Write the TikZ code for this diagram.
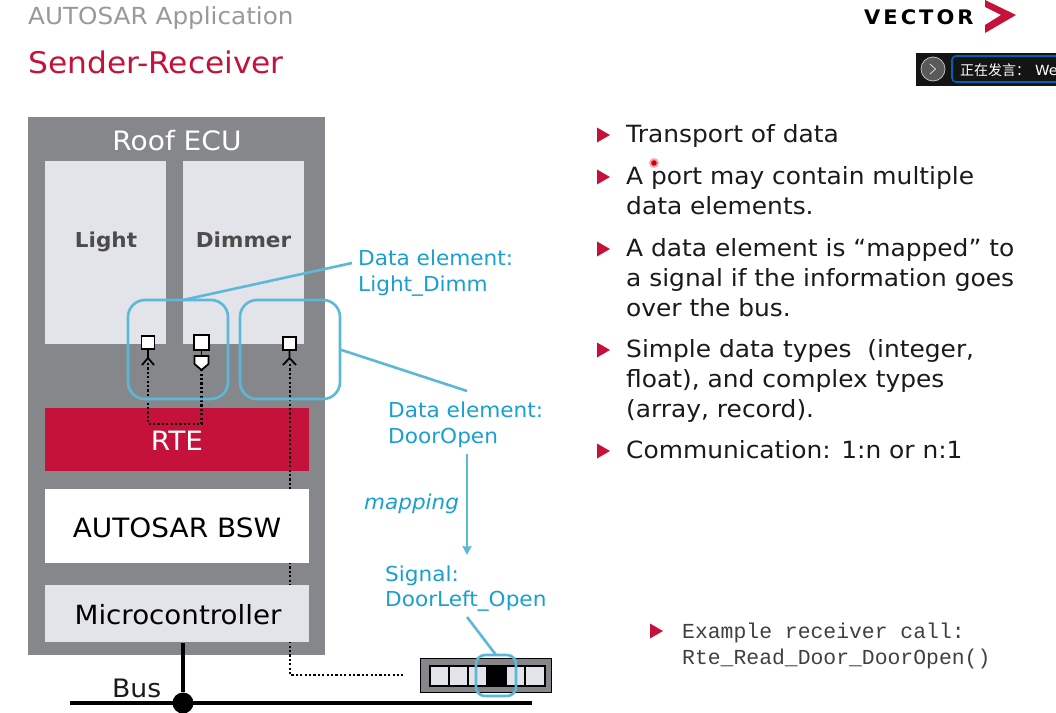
\documentclass[tikz,border=0pt]{standalone}
\usepackage{fontspec}
\setmainfont[FakeStretch=1.05]{DejaVu Sans}
\newfontfamily\cjkf{Noto Sans CJK SC}
\newfontfamily\monof{Liberation Mono}
\usetikzlibrary{arrows.meta,calc}
\definecolor{vgray}{HTML}{85878A}
\definecolor{vlight}{HTML}{E3E4EA}
\definecolor{vred}{HTML}{C5123A}
\definecolor{vblue}{HTML}{5CB8D8}
\definecolor{vtext}{HTML}{1A9FD0}
\definecolor{vdark}{HTML}{1A1A1A}
\tikzset{
  block/.style={draw=none,inner sep=0pt,outer sep=0pt,anchor=north west,align=center},
  txt/.style={anchor=base west,inner sep=0pt,text=vdark,font=\fontsize{23.7}{29}\selectfont,align=left},
  bluetxt/.style={anchor=base west,inner sep=0pt,text=vtext,font=\fontsize{20.6}{25}\selectfont},
  blk/.style={inner sep=0pt,font=\fontsize{26.6}{30}\selectfont},
  portsq/.style={draw=black,line width=1.8pt,fill=white,minimum size=13pt,inner sep=0pt},
  bluebox/.style={draw=vblue,line width=2.6pt,rounded corners=17pt,inner sep=0pt,fill=none},
  blueline/.style={draw=vblue,line width=2.6pt},
  dots/.style={draw=black,line width=2.4pt,dash pattern=on 2.2pt off 2.2pt},
  bull/.style={fill=vred,draw=none},
  stick/.style={draw=black,line width=1.8pt},
}
\newcommand{\bulletat}[2]{\fill[bull] (#1,#2-7.5) -- (#1+13,#2) -- (#1,#2+7.5) -- cycle;}
\begin{document}
\begin{tikzpicture}[x=1pt,y=-1pt]
\useasboundingbox (0,0) rectangle (1056,712);
\fill[white] (0,0) rectangle (1056,712);
% header
\node[anchor=base west,inner sep=0pt,text=vgray!85,font=\fontsize{23.5}{28}\selectfont] (h1) at (28,24) {AUTOSAR Application};
\node[anchor=base west,inner sep=0pt,text=vred,font=\fontsize{29.8}{34}\selectfont] (h2) at (28,73) {Sender-Receiver};
\node[anchor=base west,inner sep=0pt,text=black,font=\bfseries\fontsize{20}{22}\selectfont] (logo) at (864,24) {V\kern3pt E\kern3pt C\kern3pt T\kern3pt O\kern3pt R};
\fill[vred] (985,0) -- (1016,15) -- (985,33) -- (985,25) -- (1001,15) -- (985,7) -- cycle;
% meeting strip
\fill[black!92] (916,53) rectangle (1056,86);
\node[circle,draw=white!75!black,line width=0.8pt,fill=black!65,minimum size=24pt,inner sep=0pt] (spk) at (933,69) {};
\draw[white!85!black,line width=0.8pt] (930,64) -- (935.5,69) -- (930,74);
\draw[draw=blue!45!cyan!70!black,line width=1.6pt,rounded corners=4pt] (1066,56) -- (952,56) -- (952,82) -- (1066,82);
\begin{scope}
\clip (916,53) rectangle (1056,86);
\node[anchor=base west,inner sep=0pt,text=white,font=\fontsize{14}{16}\selectfont] (spkt) at (960,75) {{\cjkf 正在发言：}\hspace{5pt}We};
\end{scope}
% ECU
\node[block,fill=vgray,minimum width=297pt,minimum height=538pt] (ecu) at (28,117) {};
\node[inner sep=0pt,text=white,font=\fontsize{26.7}{30}\selectfont] (ecut) at (177,141) {Roof ECU};
\node[block,fill=vlight,minimum width=121pt,minimum height=183pt] (light) at (45,161) {};
\node[inner sep=0pt,text=black!70,font=\bfseries\fontsize{20.5}{24}\selectfont] at (106,242) {Light};
\node[block,fill=vlight,minimum width=121pt,minimum height=183pt] (dimmer) at (183,161) {};
\node[inner sep=0pt,text=black!70,font=\bfseries\fontsize{20.5}{24}\selectfont] at (243.5,240) {Dimmer};
\node[block,fill=vred,minimum width=264pt,minimum height=63pt] (rte) at (45,408) {};
\node[blk,text=white] (rtet) at (177,441) {RTE};
% dotted connectors
\coordinate (a1) at (148,363);
\coordinate (a2) at (201.5,370);
\coordinate (a3) at (290,364);
\coordinate (sigin) at (403,675);
\draw[dots] (a1) -- (148,424) -- (201.5,424) -- (a2);
\draw[dots] (a3) -- (290,675) -- (sigin);
\node[block,fill=white,minimum width=264pt,minimum height=74pt] (bsw) at (45,489) {};
\node[blk,text=black] at (177,528) {AUTOSAR BSW};
\node[block,fill=vlight,minimum width=264pt,minimum height=57pt] (mc) at (45,585) {};
\node[blk,text=black,font=\fontsize{26.4}{30}\selectfont] at (178,615) {Microcontroller};
% ports
\node[portsq] (p1) at (148,342.5) {};
\node[portsq,minimum size=15pt] (p2) at (201.5,342.5) {};
\node[portsq] (p3) at (289.5,343.5) {};
\draw[stick] (p1.south) -- (148,358) (142,365) -- (148,358) -- (154,365);
\draw[stick] (p3.south) -- (289.5,358) (283,365) -- (289.5,358) -- (296,365);
\draw[stick] (p2.south) -- (201.5,356);
\draw[stick,fill=white] (194.5,356) -- (208.5,356) -- (208.5,364) -- (201.5,370) -- (194.5,364) -- cycle;
% blue boxes
\node[block,bluebox,minimum width=100pt,minimum height=99pt] (b1) at (128,300) {};
\node[block,bluebox,minimum width=100pt,minimum height=99pt] (b2) at (240,300) {};
\node[bluetxt] (de1) at (358,265) {Data element:};
\node[bluetxt] (de1b) at (358,291) {Light\_Dimm};
\node[bluetxt] (de2) at (388,417) {Data element:};
\node[bluetxt] (de2b) at (388,443) {DoorOpen};
\node[bluetxt,font=\itshape\fontsize{20.5}{25}\selectfont] (map) at (364,509) {mapping};
\node[bluetxt] (sg) at (385,581) {Signal:};
\node[bluetxt] (sgb) at (385,606) {DoorLeft\_Open};
\coordinate (de1c) at (352,263);
\coordinate (de2c) at (467,391);
\coordinate (sgc) at (467,617);
\coordinate (mapa) at (467,454);
\coordinate (mapb) at (467,555);
\draw[blueline] (b1.north) ++(5,0) -- (de1c);
\draw[blueline] (b2.east) -- (de2c);
\draw[blueline,-{Stealth[length=9pt,width=9pt,inset=1pt]}] (mapa) -- (mapb);
% signal frame
\node[block,fill=vgray,draw=black,line width=0.8pt,minimum width=131pt,minimum height=34pt] (frame) at (420,658) {};
\foreach \xa/\xb/\col in {430/449/vlight,449/468/vlight,468/487/vlight,487/506/black,506/525/vlight,525/545/vlight}{
  \draw[black,line width=1.2pt,fill=\col] (\xa,666) rectangle (\xb,686);
}
\node[block,bluebox,rounded corners=9pt,minimum width=40pt,minimum height=41pt] (sb) at (476,655) {};
\draw[blueline] (sb.north) -- (sgc);
% bus
\coordinate (busl) at (70,703);
\coordinate (busr) at (532,703);
\node[circle,fill=black,minimum size=21pt,inner sep=0pt] (busdot) at (183,703) {};
\draw[black,line width=3.6pt] (busl) -- (busr);
\draw[black,line width=3.8pt] (183,643) -- (busdot);
\node[inner sep=0pt,anchor=base west,text=vdark,font=\fontsize{25.4}{30}\selectfont] (bus) at (112,697) {Bus};
% right column
\bulletat{597}{135}
\node[txt] (t1) at (626,142) {Transport of data};
\bulletat{597}{177}
\node[txt] (t2) at (626,184) {A port may contain multiple};
\node[txt] (t2b) at (626,214) {data elements.};
\bulletat{597}{249}
\node[txt] (t3) at (626,256) {A data element is “mapped” to};
\node[txt] (t3b) at (626,286) {a signal if the information goes};
\node[txt] (t3c) at (626,316) {over the bus.};
\bulletat{597}{350}
\node[txt] (t4) at (626,357) {Simple data types~ (integer,};
\node[txt] (t4b) at (626,387) {float), and complex types};
\node[txt] (t4c) at (626,417) {(array, record).};
\bulletat{597}{451}
\node[txt] (t5) at (626,458) {Communication: 1:n or n:1};
\bulletat{650}{631}
\node[anchor=base west,inner sep=0pt,text=black!75,font=\monof\fontsize{21.4}{26}\selectfont] (c1) at (682,638) {Example receiver call:};
\node[anchor=base west,inner sep=0pt,text=black!75,font=\monof\fontsize{21.4}{26}\selectfont] (c2) at (682,664) {Rte\_Read\_Door\_DoorOpen()};
% pointer
\fill[vred!35] (654,163) circle (5pt);
\fill[red!85!black] (654,163) circle (2.8pt);
\end{tikzpicture}
\end{document}
